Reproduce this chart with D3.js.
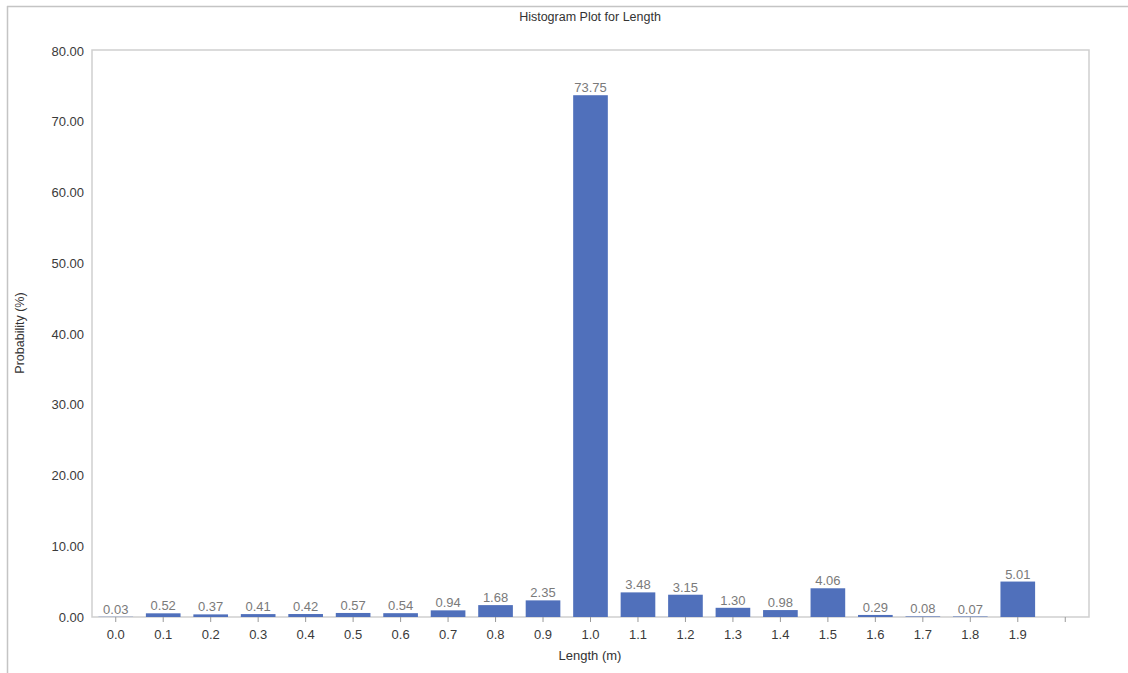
<!DOCTYPE html>
<html><head><meta charset="utf-8">
<script src="https://cdn.jsdelivr.net/npm/d3@7"></script>
<style>body{margin:0;background:#fff;}svg{display:block;font-family:"Liberation Sans",Arial,sans-serif;}</style>
</head><body>
<svg id="c" width="1128" height="673"></svg>
<script>
const categories = ["0.0","0.1","0.2","0.3","0.4","0.5","0.6","0.7","0.8","0.9","1.0","1.1","1.2","1.3","1.4","1.5","1.6","1.7","1.8","1.9"];
const probabilities = [0.03,0.52,0.37,0.41,0.42,0.57,0.54,0.94,1.68,2.35,73.75,3.48,3.15,1.30,0.98,4.06,0.29,0.08,0.07,5.01];
const yTicks = [0,10,20,30,40,50,60,70,80];
const extraSlot = "";

const svg = d3.select("#c");
const m = {left:92, top:50, right:1089, bottom:617};

// outer frame (top and left)
svg.append("line").attr("x1",7).attr("x2",1128).attr("y1",6.5).attr("y2",6.5).attr("stroke","#c4c4c4").attr("stroke-width",1.5);
svg.append("line").attr("x1",7.5).attr("x2",7.5).attr("y1",6).attr("y2",673).attr("stroke","#c4c4c4").attr("stroke-width",1.5);

const x = d3.scaleBand().domain(categories.concat([extraSlot])).range([m.left,m.right]).paddingInner(0.27).paddingOuter(0.135);
const y = d3.scaleLinear().domain([0,80]).range([m.bottom,m.top+1]);

// plot frame
svg.append("rect").attr("x",m.left).attr("y",m.top).attr("width",m.right-m.left).attr("height",m.bottom-m.top)
  .attr("fill","none").attr("stroke","#cfcfcf").attr("stroke-width",1.5);

// bars
svg.append("g").selectAll("rect").data(probabilities).join("rect")
  .attr("x",(d,i)=>x(categories[i])).attr("width",x.bandwidth())
  .attr("y",d=>y(d)).attr("height",d=>m.bottom-y(d)).attr("fill","#5070bb");

// value labels
svg.append("g").selectAll("text").data(probabilities).join("text")
  .attr("x",(d,i)=>x(categories[i])+x.bandwidth()/2).attr("y",d=>y(d)-3)
  .attr("text-anchor","middle").attr("font-size",13).attr("fill","#7a7a7a")
  .text(d=>d.toFixed(2));

// x axis
const xa = svg.append("g").attr("transform",`translate(0,${m.bottom})`)
  .call(d3.axisBottom(x).tickSize(5).tickPadding(8));
xa.select(".domain").remove();
xa.selectAll(".tick line").attr("stroke","#999");
xa.selectAll(".tick text").attr("font-size",13).attr("fill","#3a3a3a").attr("font-family","Liberation Sans, Arial, sans-serif");

// y axis
const ya = svg.append("g").attr("transform",`translate(${m.left},0)`)
  .call(d3.axisLeft(y).tickValues(yTicks).tickFormat(d3.format(".2f")).tickSize(0).tickPadding(8));
ya.select(".domain").remove();
ya.selectAll(".tick text").attr("font-size",13).attr("fill","#3a3a3a").attr("font-family","Liberation Sans, Arial, sans-serif");

// titles
svg.append("text").attr("x",590).attr("y",21).attr("text-anchor","middle").attr("font-size",12.5).attr("fill","#333").text("Histogram Plot for Length");
svg.append("text").attr("x",590).attr("y",660).attr("text-anchor","middle").attr("font-size",13).attr("fill","#333").text("Length (m)");
svg.append("text").attr("transform","translate(24,333) rotate(-90)").attr("text-anchor","middle").attr("font-size",12.5).attr("fill","#333").text("Probability (%)");
</script>
</body></html>
